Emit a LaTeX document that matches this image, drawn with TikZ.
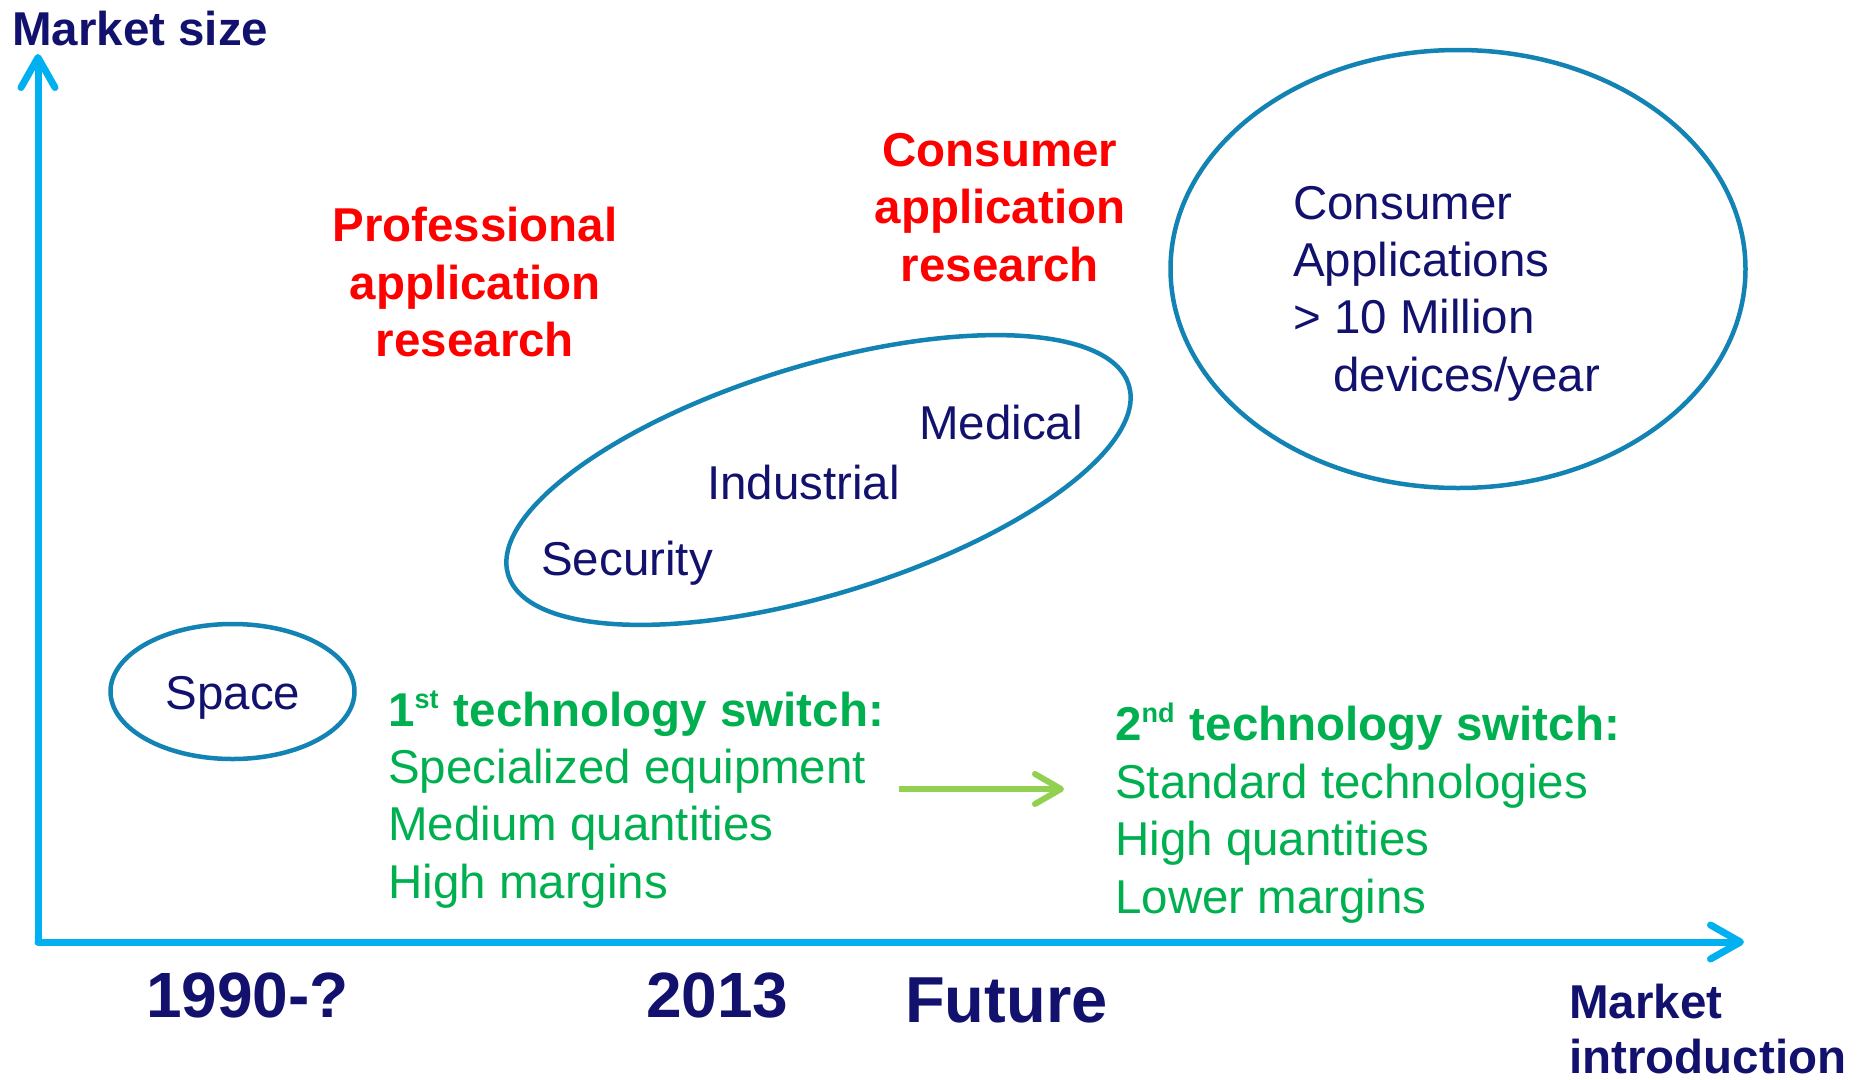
\documentclass[tikz,border=0pt]{standalone}
\usepackage{fontspec}
\setmainfont{Liberation Sans}
\usetikzlibrary{arrows.meta,shapes.geometric}
\definecolor{navy}{HTML}{12126E}
\definecolor{ringblue}{HTML}{1383B4}
\definecolor{axisblue}{HTML}{00B0F0}
\definecolor{leafgreen}{HTML}{00B050}
\definecolor{arrowgreen}{HTML}{92D050}
\definecolor{hotred}{HTML}{FF0000}
\newcommand{\supr}[1]{\raisebox{18pt}{\fontsize{27}{27}\selectfont #1}\hspace{2pt}}
\begin{document}
\begin{tikzpicture}[x=1pt,y=-1pt,
  ring/.style={draw=ringblue, line width=4.5pt, ellipse, inner sep=0pt},
  txt/.style={inner sep=0pt, font=\fontsize{47.5}{57.5}\selectfont},
  txtl/.style={txt, anchor=base west},
  txtc/.style={txt, anchor=base},
  head/.style={txtl, font=\fontsize{47.5}{57.5}\selectfont\bfseries, text=navy},
  year/.style={txtl, font=\fontsize{64}{70}\selectfont\bfseries, text=navy},
  redhead/.style={txtc, font=\fontsize{47.5}{57.5}\selectfont\bfseries, text=hotred},
  appl/.style={txtl, text=navy},
  green/.style={txtl, text=leafgreen},
  greenb/.style={txtl, text=leafgreen, font=\fontsize{47.5}{57.5}\selectfont\bfseries},
  axis/.style={draw=axisblue, line width=7pt, line cap=round,
    -{Straight Barb[length=30pt, width=34pt, line cap=round, round]}},
  shift arrow/.style={draw=arrowgreen, line width=6pt,
    -{Straight Barb[length=26pt, width=30pt, line cap=round, round]}}
]
\useasboundingbox (0,0) rectangle (1860,1079);

% axes
\coordinate (O) at (38,942);
\coordinate (ytop) at (38,54);
\coordinate (xend) at (1744,942);
\draw[axis] (O) -- (ytop);
\draw[axis] (O) -- (xend);

% axis titles
\node[head] (msize) at (12,45) {Market size};
\node[head] (mintro1) at (1569,1018) {Market};
\node[head] (mintro2) at (1569,1073) {introduction};

% time marks
\node[year] (y1990) at (146,1017) {1990-?};
\node[year] (y2013) at (646,1017) {2013};
\node[year, font=\fontsize{65}{70}\selectfont\bfseries] (yfut) at (905,1022) {Future};

% market ellipses
\node[ring, minimum width=244pt, minimum height=135pt] (space) at (232.5,691.5) {};
\node[txtc, text=navy] (spacet) at (233,709) {Space};

\node[ring, minimum width=649pt, minimum height=229pt, rotate=17] (prof) at (818.5,480) {};
\node[appl] (med) at (919,439) {Medical};
\node[appl] (ind) at (707,499) {Industrial};
\node[appl] (sec) at (541,575) {Security};

\node[ring, minimum width=575pt, minimum height=438pt] (cons) at (1458,269) {};
\node[appl] (c1) at (1293,219) {Consumer};
\node[appl] (c2) at (1293,276) {Applications};
\node[appl] (c3) at (1293,333) {> 10 Million};
\node[appl] (c4) at (1333,391) {devices/year};

% research labels
\node[redhead] (pr1) at (475,241) {Professional};
\node[redhead] (pr2) at (475,299) {application};
\node[redhead] (pr3) at (475,356) {research};
\node[redhead] (cr1) at (1000,166) {Consumer};
\node[redhead] (cr2) at (1000,223) {application};
\node[redhead] (cr3) at (1000,281) {research};

% technology switches
\node[greenb] (s1h) at (388,726) {1\supr{st} technology switch:};
\node[green] (s1a) at (388,783) {Specialized equipment};
\node[green] (s1b) at (388,840) {Medium quantities};
\node[green] (s1c) at (388,898) {High margins};

\node[greenb] (s2h) at (1115,740) {2\supr{nd} technology switch:};
\node[green] (s2a) at (1115,798) {Standard technologies};
\node[green] (s2b) at (1115,855) {High quantities};
\node[green] (s2c) at (1115,913) {Lower margins};

\coordinate (sw1) at (899,789);
\coordinate (sw2) at (1064,789);
\draw[shift arrow] (sw1) -- (sw2);
\end{tikzpicture}
\end{document}
